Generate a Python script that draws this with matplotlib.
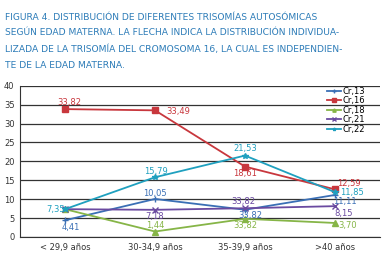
import matplotlib.pyplot as plt

categories = ['< 29,9 años', '30-34,9 años', '35-39,9 años', '>40 años']
series_names = ['Cr,13', 'Cr,16', 'Cr,18', 'Cr,21', 'Cr,22']
cr13 = [4.41, 10.05, 7.2, 11.11]
cr16 = [33.82, 33.49, 18.61, 12.59]
cr18 = [7.35, 1.44, 4.8, 3.70]
cr21 = [7.35, 7.18, 7.6, 8.15]
cr22 = [7.35, 15.79, 21.53, 11.85]
labels13 = ['4,41', '10,05', '33,82', '11,11']
labels16 = ['33,82', '33,49', '18,61', '12,59']
labels18 = ['', '1,44', '33,82', '3,70']
labels21 = ['', '7,18', '33,82', '8,15']
labels22 = ['7,35', '15,79', '21,53', '11,85']

colors = ['#3a6fb5', '#c8373d', '#86b547', '#6a4aa0', '#1fa0bf']
markers = ['+', 's', '^', 'x', '*']
title_color = '#2d7cb8'

fig = plt.figure(figsize=(3.85, 2.63), dpi=100)
ax = fig.add_axes([0.052, 0.099, 0.935, 0.575])

title = ('FIGURA 4. DISTRIBUCIÓN DE DIFERENTES TRISOMÍAS AUTOSÓMICAS\n'
         'SEGÚN EDAD MATERNA. LA FLECHA INDICA LA DISTRIBUCIÓN INDIVIDUA-\n'
         'LIZADA DE LA TRISOMÍA DEL CROMOSOMA 16, LA CUAL ES INDEPENDIEN-\n'
         'TE DE LA EDAD MATERNA.')
fig.text(0.013, 0.952, title, color=title_color, fontsize=6.55, va='top',
         ha='left', linespacing=1.95, fontfamily='DejaVu Sans')

x = range(len(categories))
all_series = [cr13, cr16, cr18, cr21, cr22]
for vals, name, c, m in zip(all_series, series_names, colors, markers):
    ax.plot(x, vals, color=c, marker=m, markersize=4, linewidth=1.3,
            label=name, markeredgewidth=1)

# data labels, offsets in points
def put(labels, vals, c, offsets):
    for i, (t, v) in enumerate(zip(labels, vals)):
        if t:
            dx, dy = offsets[i]
            ax.annotate(t, (i, v), xytext=(dx, dy), textcoords='offset points',
                        color=c, fontsize=6, ha='center', va='center')

put(labels16, cr16, colors[1], [(3, 4.5), (17, -1), (0, -5), (10, 4)])
put(labels22, cr22, colors[4], [(-7, 0), (1, 4.5), (0, 5), (12, 0)])
put(labels13, cr13, colors[0], [(4.5, -5), (0, 4), (4, -4), (7, -5)])
put(labels21, cr21, colors[3], [(0, 0), (0, -4.5), (-1, 5), (6, -5)])
put(labels18, cr18, colors[2], [(0, 0), (0, 4.5), (0, -4.5), (9, -1.5)])

ax.set_xlim(-0.5, 3.5)
ax.set_ylim(0, 40)
ax.set_yticks(range(0, 41, 5))
ax.set_xticks(list(x))
ax.set_xticklabels(categories)
ax.tick_params(labelsize=6, length=0, colors='#333333', pad=4)
ax.grid(axis='y', color='#333333', linewidth=0.9)
for s in ['top', 'right']:
    ax.spines[s].set_visible(False)
ax.spines['left'].set_color('#333333')
ax.spines['bottom'].set_color('#333333')

ax.legend(loc='upper right', bbox_to_anchor=(0.97, 1.02), fontsize=6,
          frameon=False, handlelength=1.7, labelspacing=0.05,
          handletextpad=0.15, borderpad=0, markerscale=0.6)

fig.savefig('out.png', dpi=100)
